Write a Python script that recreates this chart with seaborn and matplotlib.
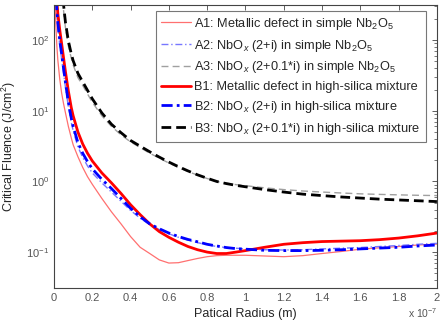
import numpy as np
import pandas as pd
import matplotlib
matplotlib.use("Agg")
import matplotlib.pyplot as plt
import matplotlib.ticker as mticker
import seaborn as sns

# Particle radius (units of 1e-7 m)
radius = [0.005, 0.01, 0.015, 0.02,
          0.03, 0.04, 0.05, 0.06, 0.075, 0.09, 0.1,
          0.125, 0.15, 0.175, 0.2,
          0.25, 0.3, 0.35, 0.4, 0.45, 0.5, 0.55, 0.6, 0.65, 0.7, 0.75, 0.8, 0.85, 0.9, 0.95,
          1.0, 1.1, 1.2, 1.3, 1.4, 1.5, 1.6, 1.7, 1.8, 1.9, 2.0]

# Critical fluence (J/cm^2)
a1 = [398, 158, 83.2, 52.5,
      28.2, 17.8, 12.6, 9.33, 6.03, 4.17, 3.31,
      2.24, 1.58, 1.17, 0.912,
      0.575, 0.372, 0.251, 0.166, 0.117, 0.0955, 0.0776, 0.0700, 0.0708, 0.0759,
      0.0813, 0.0861, 0.0891, 0.0902, 0.0902,
      0.0902, 0.0881, 0.0861, 0.0891, 0.0955, 0.102, 0.110, 0.115, 0.120, 0.126, 0.130]
a2 = [1000, 427, 224, 151,
      85.1, 53.7, 33.9, 21.4, 11.5, 6.92, 5.25,
      3.09, 2.19, 1.66, 1.32,
      0.955, 0.708, 0.525, 0.389, 0.302, 0.245, 0.209, 0.182, 0.162, 0.148,
      0.136, 0.127, 0.120, 0.116, 0.1135,
      0.111, 0.108, 0.107, 0.108, 0.111, 0.1135, 0.116, 0.120, 0.124, 0.129, 0.133]
a3 = [79400, 20000, 7940, 3980,
      1000, 589, 263, 148, 83.2, 56.2, 44.7,
      29.5, 22.9, 17.4, 13.2,
      8.51, 6.03, 4.57, 3.63, 3.02, 2.51, 2.14, 1.82, 1.58, 1.38,
      1.23, 1.10, 1.0, 0.944, 0.902,
      0.871, 0.813, 0.767, 0.733, 0.708, 0.687, 0.668, 0.656, 0.646, 0.637, 0.631]
b1 = [1585, 708, 355, 240,
      141, 89.1, 56.2, 35.5, 19.1, 11.2, 8.51,
      5.01, 3.39, 2.51, 1.95,
      1.32, 0.955, 0.676, 0.468, 0.339, 0.251, 0.195, 0.162, 0.138, 0.120,
      0.108, 0.100, 0.0955, 0.0955, 0.100,
      0.105, 0.117, 0.129, 0.136, 0.141, 0.143, 0.145, 0.150, 0.158, 0.170, 0.186]
b2 = [1122, 501, 263, 178,
      100, 63.1, 39.8, 25.1, 13.2, 7.94, 6.03,
      3.55, 2.51, 1.91, 1.51,
      1.07, 0.794, 0.575, 0.417, 0.316, 0.251, 0.214, 0.186, 0.166, 0.151,
      0.140, 0.129, 0.122, 0.116, 0.112,
      0.110, 0.106, 0.105, 0.105, 0.106, 0.108, 0.111, 0.114, 0.117, 0.122, 0.126]
b3 = [100000, 25100, 10000, 5010,
      1260, 708, 316, 178, 97.7, 64.6, 51.3,
      33.9, 25.7, 19.5, 14.8,
      9.33, 6.46, 4.90, 3.80, 3.16, 2.63, 2.21, 1.88, 1.62, 1.41,
      1.24, 1.11, 1.0, 0.933, 0.881,
      0.841, 0.767, 0.708, 0.661, 0.631, 0.603, 0.582, 0.562, 0.547, 0.533, 0.519]

labels = [
    r"A1: Metallic defect in simple Nb$_2$O$_5$",
    r"A2: NbO$_x$ (2+i) in simple Nb$_2$O$_5$",
    r"A3: NbO$_x$ (2+0.1*i) in simple Nb$_2$O$_5$",
    "B1: Metallic defect in high-silica mixture",
    r"B2: NbO$_x$ (2+i) in high-silica mixture",
    r"B3: NbO$_x$ (2+0.1*i) in high-silica mixture",
]
x_ticks = [0, 0.2, 0.4, 0.6, 0.8, 1, 1.2, 1.4, 1.6, 1.8, 2]
series = [a1, a2, a3, b1, b2, b3]
styles = [
    dict(color="#ff7070", lw=0.9, ls="-"),
    dict(color="#7777ff", lw=1.0, ls=(0, (5, 2, 1, 2))),
    dict(color="#a0a0a0", lw=1.0, ls=(0, (5, 3))),
    dict(color="#ff0000", lw=2.0, ls="-"),
    dict(color="#0000ff", lw=2.0, ls=(0, (4, 1.5, 1, 1.5))),
    dict(color="#000000", lw=2.0, ls=(0, (3.5, 1.8))),
]

sns.set_style("white")
plt.rcParams["font.family"] = ["Liberation Sans", "DejaVu Sans"]
plt.rcParams["mathtext.fontset"] = "custom"
plt.rcParams["mathtext.rm"] = "Liberation Sans"
plt.rcParams["mathtext.it"] = "Liberation Sans:italic"

fig = plt.figure(figsize=(4.4, 3.24), dpi=100)
ax = fig.add_axes([0.1227, 0.111, 0.8703, 0.874])

for lab, ys, st in zip(labels, series, styles):
    df = pd.DataFrame({"r": radius, "f": ys})
    sns.lineplot(data=df, x="r", y="f", ax=ax, color=st["color"], lw=st["lw"],
                 linestyle=st["ls"], label=lab)

ax.set_yscale("log")
ax.set_xlim(0, 2)
ax.set_ylim(0.031, 316)
ax.set_xticks(x_ticks)
ax.xaxis.set_major_formatter(mticker.FormatStrFormatter("%g"))
ax.xaxis.set_minor_locator(mticker.NullLocator())

ax.yaxis.set_major_locator(mticker.LogLocator(base=10, numticks=10))
ax.yaxis.set_minor_locator(mticker.LogLocator(base=10, subs=np.arange(2, 10), numticks=20))
ax.yaxis.set_minor_formatter(mticker.NullFormatter())

ax.tick_params(which="both", direction="in", top=True, right=True,
               labelsize=8, labelcolor="#555555", color="#444444")
ax.tick_params(which="major", length=3.5, width=0.6)
ax.tick_params(which="minor", length=2, width=0.5)
for sp in ax.spines.values():
    sp.set_color("#444444")
    sp.set_linewidth(0.8)

ax.set_xlabel("Patical Radius (m)", fontsize=9, labelpad=4)
ax.set_ylabel(r"Critical Fluence (J/cm$^2$)", fontsize=9, labelpad=6)
fig.text(0.928, 0.035, r"x 10$^{-7}$", fontsize=7.5, color="#555555",
         ha="left", va="center")

leg = ax.legend(loc="upper right", bbox_to_anchor=(0.971, 0.979), fontsize=9.2,
                frameon=True, fancybox=False, edgecolor="#555555",
                handlelength=2.3, handletextpad=0.3, borderpad=0.4,
                labelspacing=0.45, borderaxespad=0.0)
leg.get_frame().set_linewidth(0.8)

fig.savefig("out.png", dpi=100)
